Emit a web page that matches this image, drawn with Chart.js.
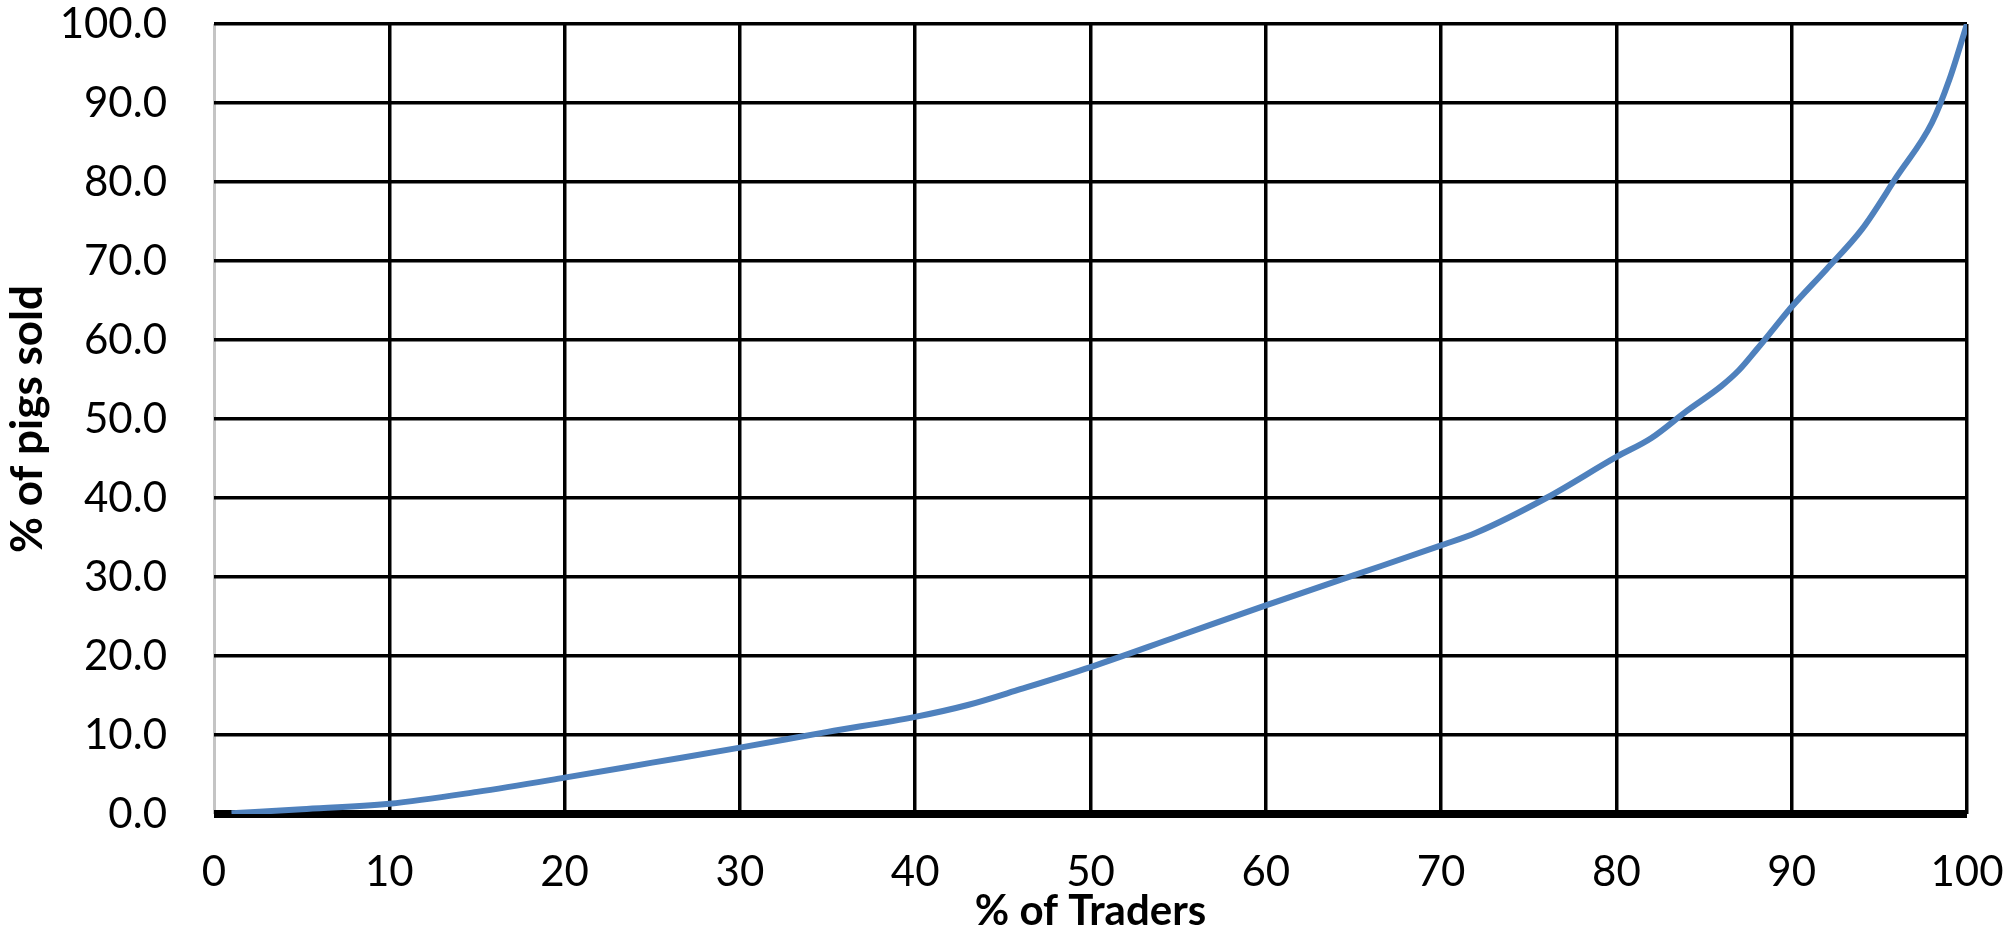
<!DOCTYPE html>
<html>
<head>
<meta charset="utf-8">
<script src="https://cdn.jsdelivr.net/npm/chart.js@4/dist/chart.umd.min.js"></script>
<style>
  html, body { margin: 0; padding: 0; background: #fff; }
  #wrap { width: 2008px; height: 930px; position: relative; }
</style>
</head>
<body>
<div id="wrap"><canvas id="c"></canvas></div>
<script>
// Data (cumulative % of pigs sold vs % of traders)
const tradersPct = [1, 5, 10, 15, 20, 25, 30, 35, 40, 43, 46, 50, 55, 60, 65, 70, 72, 76, 80, 82, 84, 86, 87, 88, 89, 90, 92, 94, 96, 98, 99, 100];
const pigsSoldPct = [0.1, 0.6, 1.3, 2.8, 4.6, 6.5, 8.4, 10.4, 12.3, 13.8, 15.8, 18.6, 22.5, 26.4, 30.2, 34.0, 35.6, 40.0, 45.2, 47.6, 51.0, 54.2, 56.2, 58.8, 61.5, 64.2, 69.0, 74.0, 80.7, 87.5, 93.0, 100];
const xTitle = '% of Traders';
const yTitle = '% of pigs sold';
const xRange = [0, 100];
const yRange = [0, 100];
const tickStep = 10;

const points = tradersPct.map((x, i) => ({ x: x, y: pigsSoldPct[i] }));

function noPad(s) {
  s.paddingLeft = 0; s.paddingRight = 0; s.paddingTop = 0; s.paddingBottom = 0;
}

new Chart(document.getElementById('c'), {
  type: 'line',
  data: {
    datasets: [{
      data: points,
      borderColor: '#4f81bd',
      borderWidth: 6,
      pointRadius: 0,
      fill: false,
      cubicInterpolationMode: 'monotone'
    }]
  },
  options: {
    responsive: true,
    maintainAspectRatio: false,
    animation: false,
    layout: { padding: { top: 24, right: 41, left: 0, bottom: 0 } },
    plugins: { legend: { display: false }, tooltip: { enabled: false } },
    scales: {
      x: {
        type: 'linear',
        min: xRange[0], max: xRange[1],
        afterFit: (s) => { s.height = 116; noPad(s); },
        ticks: {
          stepSize: tickStep,
          color: '#000',
          font: { family: 'Lato', size: 42 },
          padding: 33,
          maxRotation: 0
        },
        grid: {
          drawTicks: false,
          color: (ctx) => (ctx.tick && ctx.tick.value === 0) ? '#c4c4c4' : '#000',
          lineWidth: (ctx) => (ctx.tick && ctx.tick.value === 0) ? 3 : 3.5
        },
        border: { display: false },
        title: {
          display: true,
          text: xTitle,
          color: '#000',
          font: { family: 'Lato', size: 42, weight: 'bold' },
          padding: { top: 0, bottom: -7 }
        }
      },
      y: {
        type: 'linear',
        min: yRange[0], max: yRange[1],
        afterFit: (s) => { s.width = 214; noPad(s); },
        ticks: {
          stepSize: tickStep,
          color: '#000',
          font: { family: 'Lato', size: 42 },
          padding: 47,
          callback: (v) => Number(v).toFixed(1)
        },
        grid: {
          drawTicks: false,
          color: '#000',
          lineWidth: (ctx) => (ctx.tick && ctx.tick.value === 0) ? 8 : 3.5
        },
        border: { display: false },
        title: {
          display: true,
          text: yTitle,
          color: '#000',
          font: { family: 'Lato', size: 44, weight: 'bold' },
          padding: { top: 1, bottom: 0 }
        }
      }
    }
  }
});
</script>
</body>
</html>
